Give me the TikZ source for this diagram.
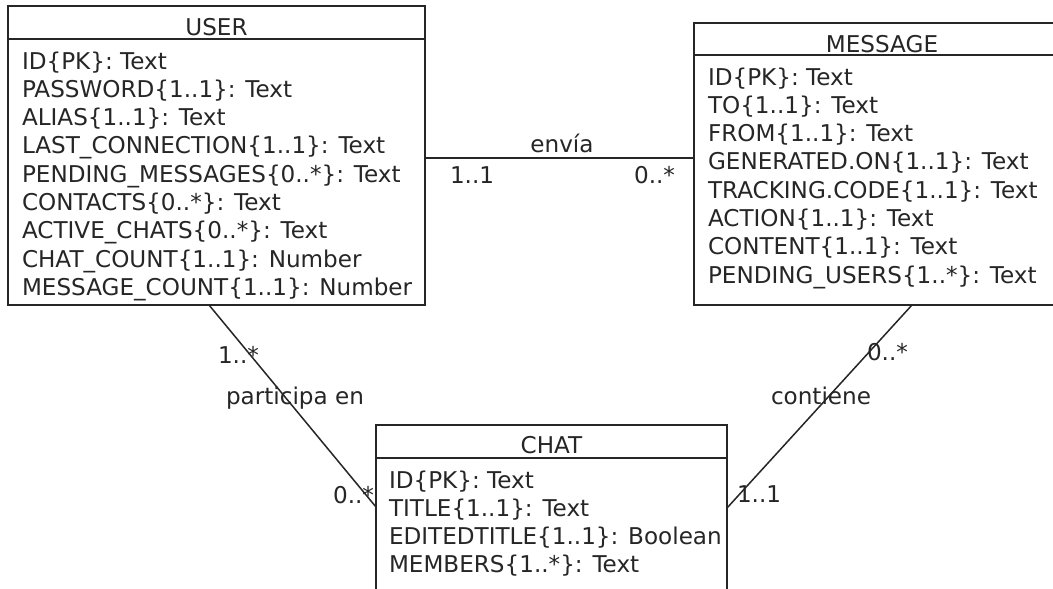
\documentclass[tikz,border=0pt]{standalone}
\usepackage{fontspec}
\setmainfont{DejaVu Sans}
\begin{document}
\begin{tikzpicture}[x=1pt,y=-1pt,
  entbox/.style={draw=black!85, line width=1.6pt, rectangle, anchor=north west, inner sep=0pt, outer sep=0pt},
  sepline/.style={draw=black!85, line width=1.6pt},
  conn/.style={draw=black!85, line width=1.5pt},
  txt/.style={text=black!85, font=\fontsize{23.1}{28}\selectfont, inner sep=0pt, outer sep=0pt},
  attr/.style={txt, anchor=base west},
  ttl/.style={txt, anchor=base},
  lbl/.style={txt, anchor=base}
]
\useasboundingbox (0,0) rectangle (1053,589);
\clip (0,0) rectangle (1053,589);
\fill[white] (0,0) rectangle (1053,589);

% USER
\node[entbox, minimum width=417pt, minimum height=299pt] (user) at (8,6) {};
\draw[sepline] (8,39) -- (425,39);
\node[ttl] (usert) at (216.5,35) {USER};
\foreach \t [count=\i] in {ID\{PK\}: Text, PASSWORD\{1..1\}: Text, ALIAS\{1..1\}: Text, LAST\_CONNECTION\{1..1\}: Text, PENDING\_MESSAGES\{0..*\}: Text, CONTACTS\{0..*\}: Text, ACTIVE\_CHATS\{0..*\}: Text, CHAT\_COUNT\{1..1\}: Number, MESSAGE\_COUNT\{1..1\}: Number}
  \node[attr] (ua\i) at (22,{69+28.3*(\i-1)}) {\t};

% MESSAGE
\node[entbox, minimum width=376pt, minimum height=282pt] (msg) at (694,23) {};
\draw[sepline] (694,55) -- (1070,55);
\node[ttl] (msgt) at (882,52) {MESSAGE};
\foreach \t [count=\i] in {ID\{PK\}: Text, TO\{1..1\}: Text, FROM\{1..1\}: Text, GENERATED.ON\{1..1\}: Text, TRACKING.CODE\{1..1\}: Text, ACTION\{1..1\}: Text, CONTENT\{1..1\}: Text, PENDING\_USERS\{1..*\}: Text}
  \node[attr] (ma\i) at (708,{85+28.3*(\i-1)}) {\t};

% CHAT
\node[entbox, minimum width=351pt, minimum height=200pt] (chat) at (376,425) {};
\draw[sepline] (376,458) -- (727,458);
\node[ttl] (chatt) at (551.5,453) {CHAT};
\foreach \t [count=\i] in {ID\{PK\}: Text, TITLE\{1..1\}: Text, EDITEDTITLE\{1..1\}: Boolean, MEMBERS\{1..*\}: Text}
  \node[attr] (ca\i) at (389,{488+28.3*(\i-1)}) {\t};

% connector end points on the borders
\coordinate (uE) at (425,158);
\coordinate (mW) at (694,158);
\coordinate (uS) at (209,305);
\coordinate (cW) at (376,507);
\coordinate (mS) at (912,305);
\coordinate (cE) at (727,508);

\draw[conn] (uE) -- (mW);
\draw[conn] (uS) -- (cW);
\draw[conn] (mS) -- (cE);

% labels
\node[lbl] (l1) at (562,152) {envía};
\node[txt, anchor=base west] (l2) at (450,183) {1..1};
\node[txt, anchor=base east] (l3) at (675,183) {0..*};
\node[txt, anchor=base west] (l4) at (218,363) {1..*};
\node[lbl] (l5) at (295,404) {participa en};
\node[txt, anchor=base east] (l6) at (374,503) {0..*};
\node[txt, anchor=base west] (l7) at (867,360) {0..*};
\node[lbl] (l8) at (821,404) {contiene};
\node[txt, anchor=base west] (l9) at (737,502) {1..1};
\end{tikzpicture}
\end{document}
